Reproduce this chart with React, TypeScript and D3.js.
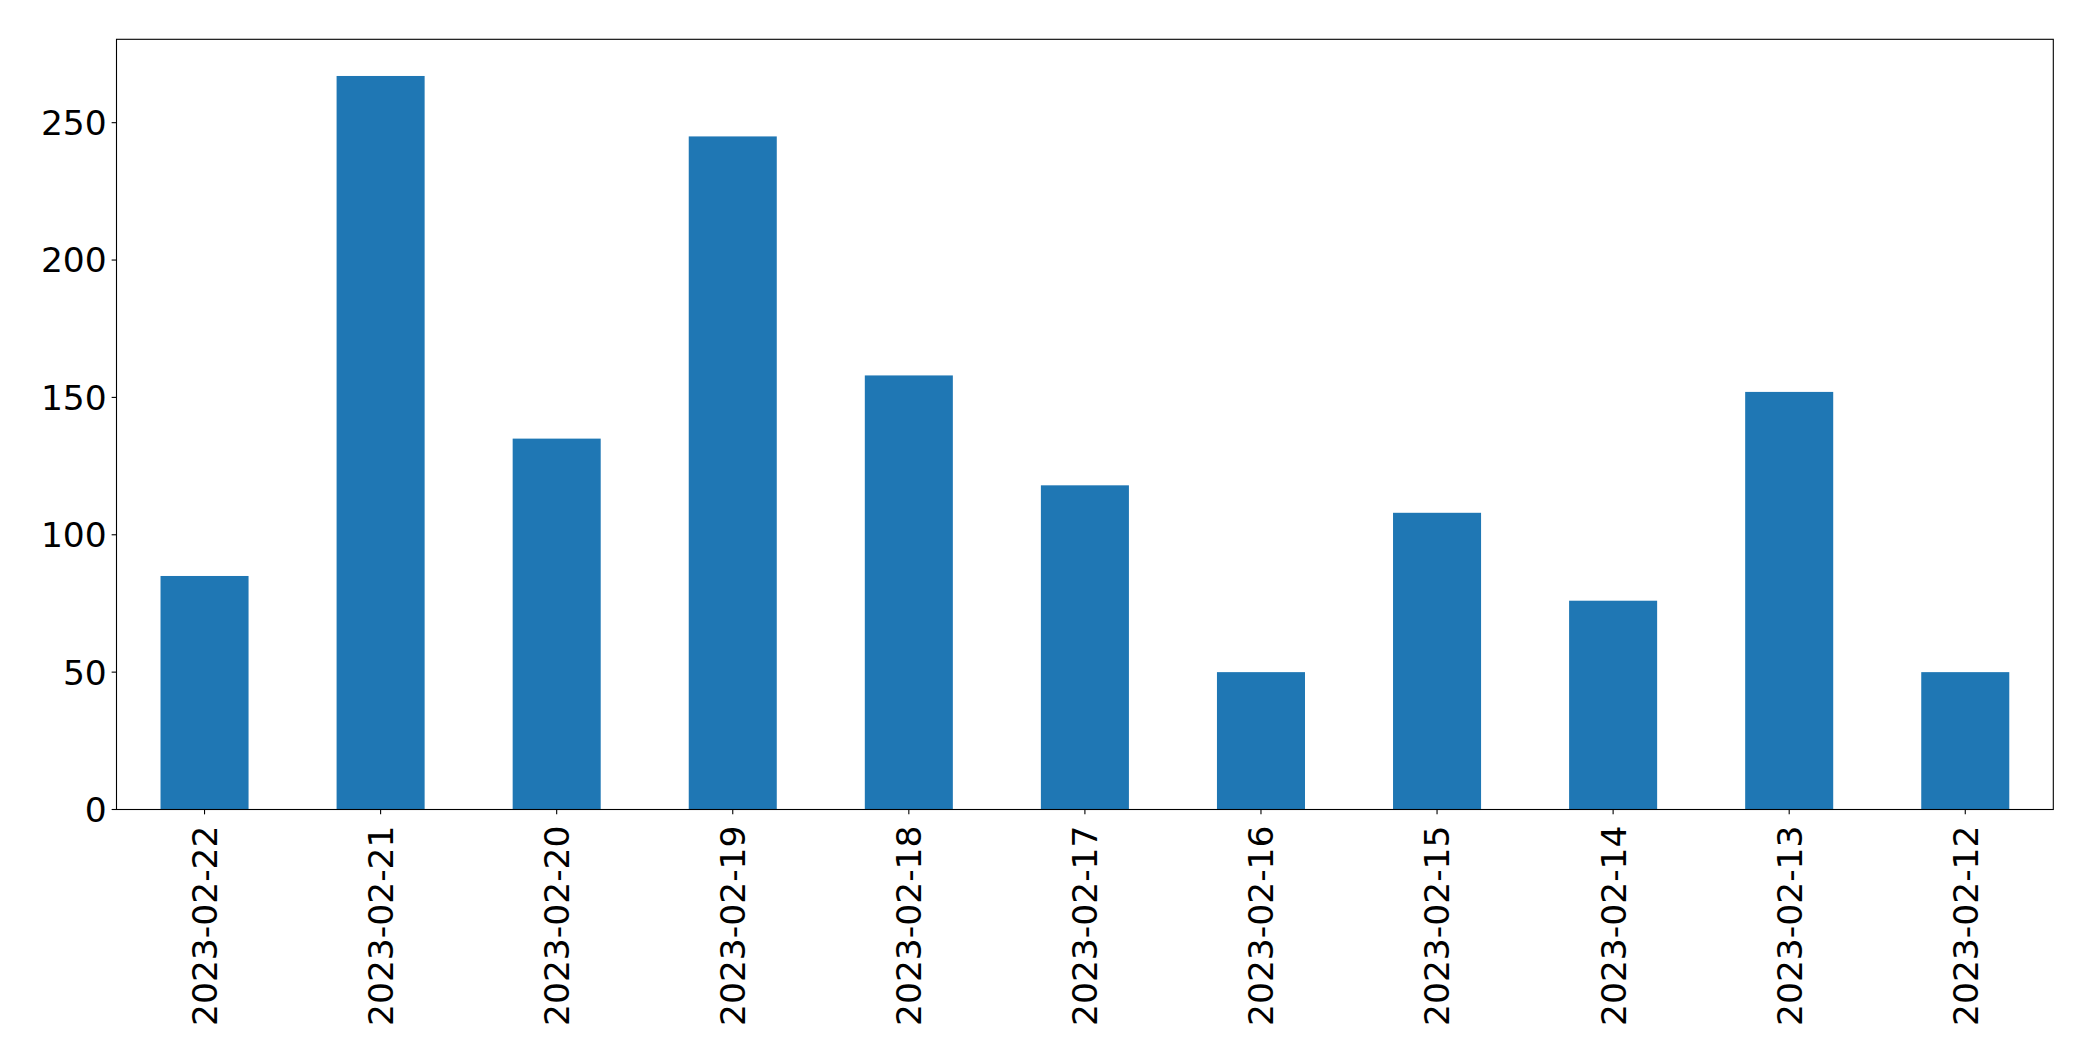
import { useEffect, useRef } from 'react';
import * as d3 from 'd3';

const dates = [
  '2023-02-22', '2023-02-21', '2023-02-20', '2023-02-19', '2023-02-18', '2023-02-17',
  '2023-02-16', '2023-02-15', '2023-02-14', '2023-02-13', '2023-02-12',
];
const counts = [85, 267, 135, 245, 158, 118, 50, 108, 76, 152, 50];
const yTicks = [0, 50, 100, 150, 200, 250];

const App = (): JSX.Element => {
  const svgRef = useRef<SVGSVGElement>(null);

  useEffect(() => {
    const width = 2093;
    const height = 1061;
    const margin = { top: 39.3, right: 2093 - 2053.3, bottom: 1061 - 809.5, left: 116.5 };
    const fontSize = 34.5;
    const tick = 4.86;

    const svg = d3.select(svgRef.current);
    svg.selectAll('*').remove();
    svg.attr('width', width).attr('height', height);

    const innerW = width - margin.left - margin.right;
    const innerH = height - margin.top - margin.bottom;

    const g = svg.append('g').attr('transform', `translate(${margin.left},${margin.top})`);

    const x = d3.scaleBand<string>().domain(dates).range([0, innerW]).paddingInner(0.5).paddingOuter(0.25);
    const y = d3.scaleLinear().domain([0, (d3.max(counts) ?? 0) * 1.05]).range([innerH, 0]);

    g.selectAll('rect.bar')
      .data(dates)
      .enter()
      .append('rect')
      .attr('class', 'bar')
      .attr('x', d => x(d) ?? 0)
      .attr('width', x.bandwidth())
      .attr('y', (_d, i) => y(counts[i]))
      .attr('height', (_d, i) => innerH - y(counts[i]))
      .attr('fill', '#1f77b4');

    // frame
    g.append('rect')
      .attr('width', innerW)
      .attr('height', innerH)
      .attr('fill', 'none')
      .attr('stroke', 'black')
      .attr('stroke-width', 1.1);

    // y ticks
    const yt = g.selectAll('g.yt').data(yTicks).enter().append('g')
      .attr('transform', d => `translate(0,${y(d)})`);
    yt.append('line').attr('x1', -tick).attr('x2', 0).attr('stroke', 'black').attr('stroke-width', 1.1);
    yt.append('text')
      .attr('x', -tick - 4.86)
      .attr('dy', '0.36em')
      .attr('text-anchor', 'end')
      .attr('font-family', 'DejaVu Sans')
      .attr('font-size', fontSize)
      .attr('fill', 'black')
      .text(d => d);

    // x ticks
    const xt = g.selectAll('g.xt').data(dates).enter().append('g')
      .attr('transform', d => `translate(${(x(d) ?? 0) + x.bandwidth() / 2},${innerH})`);
    xt.append('line').attr('y1', 0).attr('y2', tick).attr('stroke', 'black').attr('stroke-width', 1.1);
    xt.append('text')
      .attr('transform', 'rotate(-90)')
      .attr('x', -16)
      .attr('dy', '0.36em')
      .attr('text-anchor', 'end')
      .attr('font-family', 'DejaVu Sans')
      .attr('font-size', fontSize)
      .attr('fill', 'black')
      .text(d => d);
  }, []);

  return (
    <svg ref={svgRef} style={{ position: 'absolute', left: 0, top: 0, background: 'white' }} />
  );
};

export default App;
